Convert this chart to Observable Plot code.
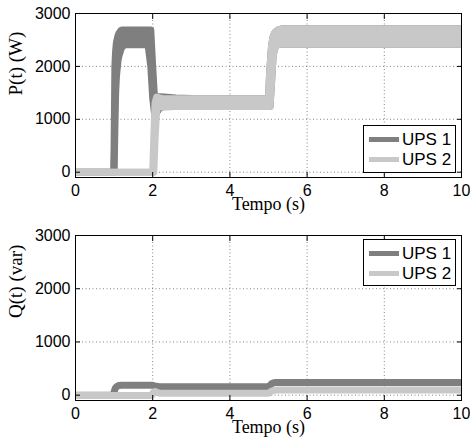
<!DOCTYPE html>
<html>
<head>
<meta charset="utf-8">
<script src="https://cdn.jsdelivr.net/npm/d3@7"></script>
<script src="https://cdn.jsdelivr.net/npm/@observablehq/plot@0.6"></script>
<style>
  html, body { margin: 0; padding: 0; background: #fff; overflow: hidden; }
  #wrap { position: relative; width: 470px; height: 446px; overflow: hidden; background: #fff; }
  .panel { position: absolute; left: 0; }
  .legend { position: absolute; box-sizing: border-box; border: 1px solid #000; background: #fff;
            font-family: "Liberation Sans", Arial, sans-serif; font-size: 17px; color: #000; }
  .legend .row { position: absolute; left: 0; height: 20px; }
  .legend .swatch { position: absolute; left: 5px; width: 30px; height: 5px; }
  .legend .lab { position: absolute; left: 38px; white-space: nowrap; line-height: 20px; }
</style>
</head>
<body>
<div id="wrap"></div>
<script>
// ---------- data ----------
const seriesNames = ["UPS 1", "UPS 2"];
const seriesColors = ["#7f7f7f", "#c8c8c8"];
const xTicks = [0, 2, 4, 6, 8, 10];
const yTicks = [0, 1000, 2000, 3000];

// P(t) UPS 1 : oscillating band (lower / upper envelopes)
const pTime1 = [0, 0.99, 1.0, 1.02, 1.04, 1.06, 1.1, 1.12, 1.18, 1.2, 1.28, 1.88, 1.95, 2.0, 2.04, 2.06, 2.08, 2.12, 2.2, 2.3, 2.6, 3.0, 5.0, 5.03, 5.04, 5.08, 5.12, 5.15, 5.18, 5.25, 5.35, 10];
const pHi1  = [0, 0, 500, 2000, 2300, 2450, 2580, 2620, 2680, 2690, 2690, 2690, 2690, 2000, 1500, 1440, 1420, 1420, 1425, 1420, 1405, 1392, 1390, 1900, 2000, 2400, 2560, 2620, 2650, 2690, 2710, 2710];
const pLo1  = [0, 0, 0, 800, 1500, 1800, 2100, 2180, 2330, 2360, 2410, 2410, 2000, 1400, 1150, 1080, 1090, 1150, 1230, 1235, 1240, 1240, 1240, 1240, 1240, 1700, 2200, 2300, 2380, 2420, 2420, 2420];

// P(t) UPS 2
const pTime2 = [0, 2.0, 2.03, 2.06, 2.1, 2.15, 2.25, 5.0, 5.03, 5.04, 5.08, 5.12, 5.15, 5.18, 5.25, 5.35, 10];
const pHi2  = [0, 0, 700, 1300, 1420, 1410, 1390, 1390, 1900, 2000, 2400, 2560, 2620, 2650, 2690, 2710, 2710];
const pLo2  = [0, 0, 0, 600, 1150, 1230, 1240, 1240, 1240, 1240, 1700, 2200, 2300, 2380, 2420, 2420, 2420];

// Q(t) UPS 1
const qTime1 = [0, 0.98, 1.0, 1.03, 1.07, 1.12, 1.2, 2.0, 2.05, 2.15, 5.0, 5.04, 5.08, 5.14, 5.2, 10];
const qVal1  = [0, 0, 60, 130, 165, 180, 185, 185, 175, 165, 160, 185, 215, 235, 240, 240];
// Q(t) UPS 2
const qTime2 = [0, 1.98, 2.02, 2.06, 2.12, 2.2, 5.0, 5.04, 5.08, 5.14, 5.2, 10];
const qVal2  = [-5, -5, 60, 70, 50, 35, 38, 55, 75, 90, 95, 95];

// ---------- build ----------
const bandRows = (T, lo, hi) => T.map((t, i) => ({t, lo: lo[i], hi: hi[i]}));
const lineRows = (T, v) => T.map((t, i) => ({t, v: v[i]}));

const SW = 7;

function bandMarks(rows, color) {
  return [
    Plot.areaY(rows, {x: "t", y1: "lo", y2: "hi", fill: color, clip: true}),
    Plot.line(rows, {x: "t", y: "hi", stroke: color, strokeWidth: SW, strokeLinejoin: "round", strokeLinecap: "butt", clip: true}),
    Plot.line(rows, {x: "t", y: "lo", stroke: color, strokeWidth: SW, strokeLinejoin: "round", strokeLinecap: "butt", clip: true})
  ];
}
function lineMarks(rows, color) {
  return [Plot.line(rows, {x: "t", y: "v", stroke: color, strokeWidth: SW, strokeLinejoin: "round", strokeLinecap: "butt", clip: true})];
}

function panel({h, mt, mb, data, ylabel}) {
  const gridStyle = {stroke: "#000", strokeOpacity: 0.6, strokeDasharray: "1,2.5", strokeWidth: 0.8};
  const fmt = d => String(d);
  return Plot.plot({
    width: 470, height: h,
    marginTop: mt, marginBottom: mb, marginLeft: 75, marginRight: 9,
    x: {domain: [0, 10]},
    y: {domain: [-100, 3000]},
    style: {fontFamily: "'Liberation Sans', Arial, sans-serif", fontSize: "16px", color: "#000", background: "#fff", overflow: "visible"},
    marks: [
      Plot.gridX(xTicks, gridStyle),
      Plot.gridY(yTicks, gridStyle),
      ...data,
      Plot.frame({stroke: "#000", strokeWidth: 1}),
      Plot.axisX(xTicks, {anchor: "bottom", tickSize: 0, tickPadding: 7, tickFormat: fmt, label: null}),
      Plot.axisX(xTicks, {anchor: "bottom", tickSize: -5, tickFormat: () => "", label: null}),
      Plot.axisX(xTicks, {anchor: "top", tickSize: -5, tickFormat: () => "", label: null}),
      Plot.axisY(yTicks, {anchor: "left", tickSize: 0, tickPadding: 5, tickFormat: fmt, label: null}),
      Plot.axisY(yTicks, {anchor: "left", tickSize: -5, tickFormat: () => "", label: null}),
      Plot.axisY(yTicks, {anchor: "right", tickSize: -5, tickFormat: () => "", label: null}),
      Plot.text(["Tempo (s)"], {frameAnchor: "bottom", dy: 27, lineAnchor: "middle", text: d => d,
        fontFamily: "'Liberation Serif', 'Times New Roman', serif", fontSize: 18, fill: "#000"}),
      Plot.text([ylabel], {frameAnchor: "left", dx: -60, rotate: -90, lineAnchor: "middle", text: d => d,
        fontFamily: "'Liberation Serif', 'Times New Roman', serif", fontSize: 19, fill: "#000"})
    ]
  });
}

const wrap = document.getElementById("wrap");

const topPanel = panel({
  h: 220, mt: 13, mb: 43, ylabel: "P(t) (W)",
  data: [...bandMarks(bandRows(pTime1, pLo1, pHi1), seriesColors[0]),
         ...bandMarks(bandRows(pTime2, pLo2, pHi2), seriesColors[1])]
});
topPanel.classList.add("panel"); topPanel.style.top = "0px";
wrap.appendChild(topPanel);

const bottomPanel = panel({
  h: 226, mt: 15, mb: 46, ylabel: "Q(t) (var)",
  data: [...lineMarks(lineRows(qTime1, qVal1), seriesColors[0]),
         ...lineMarks(lineRows(qTime2, qVal2), seriesColors[1])]
});
bottomPanel.classList.add("panel"); bottomPanel.style.top = "220px";
wrap.appendChild(bottomPanel);

function legend(left, topPx, w, hgt) {
  const box = document.createElement("div");
  box.className = "legend";
  Object.assign(box.style, {left: left + "px", top: topPx + "px", width: w + "px", height: hgt + "px"});
  seriesNames.forEach((name, i) => {
    const row = document.createElement("div");
    row.className = "row";
    row.style.top = (4 + i * 20) + "px";
    const sw = document.createElement("div");
    sw.className = "swatch";
    sw.style.background = seriesColors[i];
    sw.style.top = "7px";
    const lab = document.createElement("div");
    lab.className = "lab";
    lab.textContent = name;
    row.appendChild(sw); row.appendChild(lab);
    box.appendChild(row);
  });
  wrap.appendChild(box);
}
legend(363, 125, 93, 48);
legend(363, 239, 93, 47);
</script>
</body>
</html>
